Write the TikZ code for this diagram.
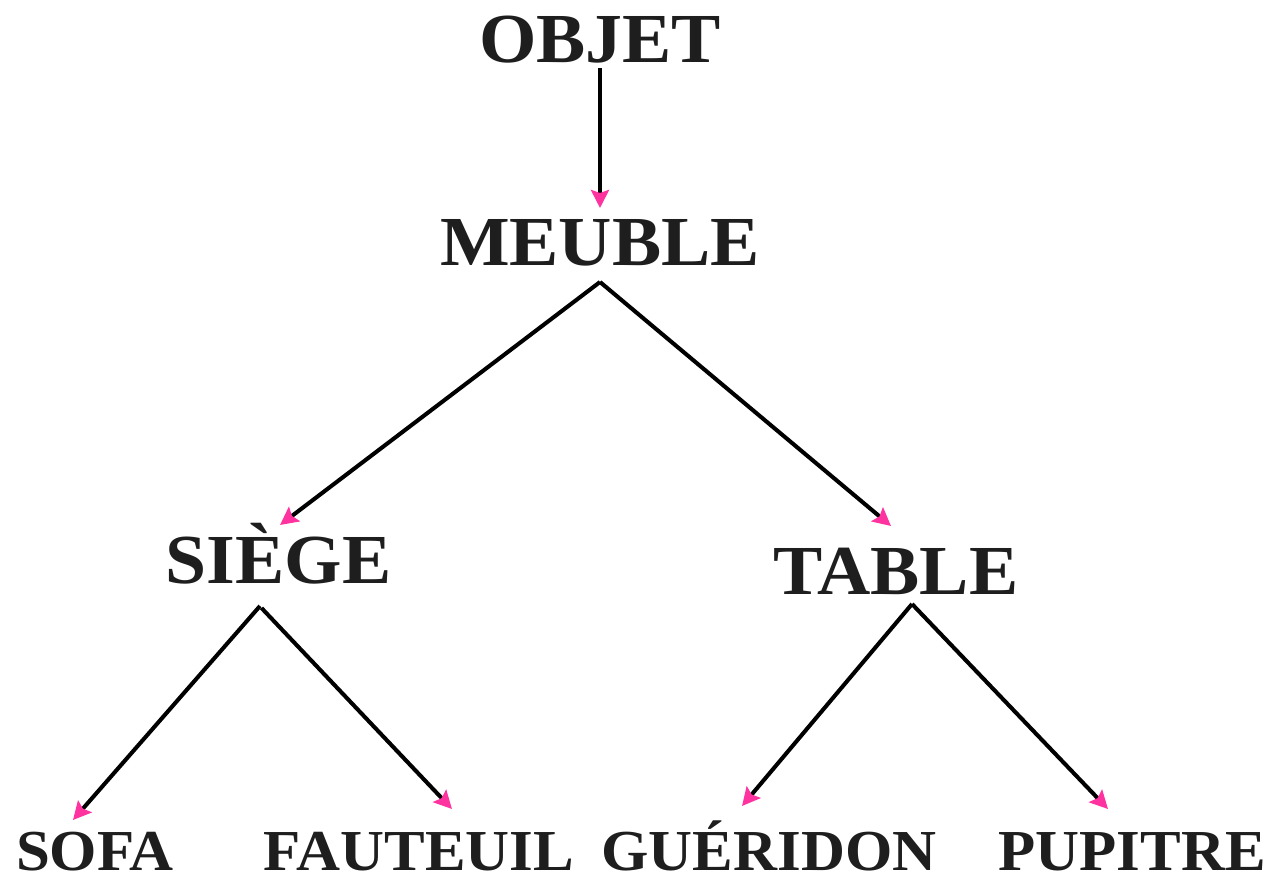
\documentclass[tikz,border=0pt]{standalone}
\usepackage{fontspec}
\setmainfont[FakeStretch=1.05]{Liberation Serif}
\usetikzlibrary{arrows.meta,calc}
\definecolor{tippink}{RGB}{255,51,160}
\definecolor{txt}{RGB}{30,30,30}
\tikzset{
  big/.style={inner sep=0pt, anchor=base, text=txt, font=\bfseries\fontsize{40}{40}\selectfont},
  small/.style={inner sep=0pt, anchor=base, text depth=0pt, text=txt, font=\bfseries\fontsize{33}{33}\selectfont},
  link/.style={line width=2.3pt, draw=black, -{Stealth[length=0.36cm, width=0.36cm, inset=0.06cm, color=tippink]}}
}
\begin{document}
\begin{tikzpicture}[x=0.02cm,y=-0.02cm]
\useasboundingbox (0,0) rectangle (1266,878);
\node[big] (objet) at (600,63) {OBJET};
\node[big] (meuble) at (600,266) {MEUBLE};
\node[big] (siege) at (278.5,583) {SIÈGE};
\node[big] (table) at (896,594) {TABLE};
\node[small] (sofa) at (95,870) {SOFA};
\node[small] (fauteuil) at (419,870) {FAUTEUIL};
\node[small] (gueridon) at (769,870) {GUÉRIDON};
\node[small] (pupitre) at (1132,870) {PUPITRE};
\draw[link] ($(objet.base)+(0,5)$) -- ($(meuble.base)+(0,-58)$);
\draw[link] ($(meuble.base)+(0,16)$) -- ($(siege.base)+(1.5,-58)$);
\draw[link] ($(meuble.base)+(0,16)$) -- ($(table.base)+(-5,-68)$);
\draw[link] ($(siege.base)+(-18.5,23)$) -- ($(sofa.base)+(-22,-50)$);
\draw[link] ($(siege.base)+(-17,25)$) -- ($(fauteuil.base)+(33,-61)$);
\draw[link] ($(table.base)+(16,10)$) -- ($(gueridon.base)+(-27,-64)$);
\draw[link] ($(table.base)+(16,10)$) -- ($(pupitre.base)+(-24,-61)$);
\end{tikzpicture}
\end{document}
